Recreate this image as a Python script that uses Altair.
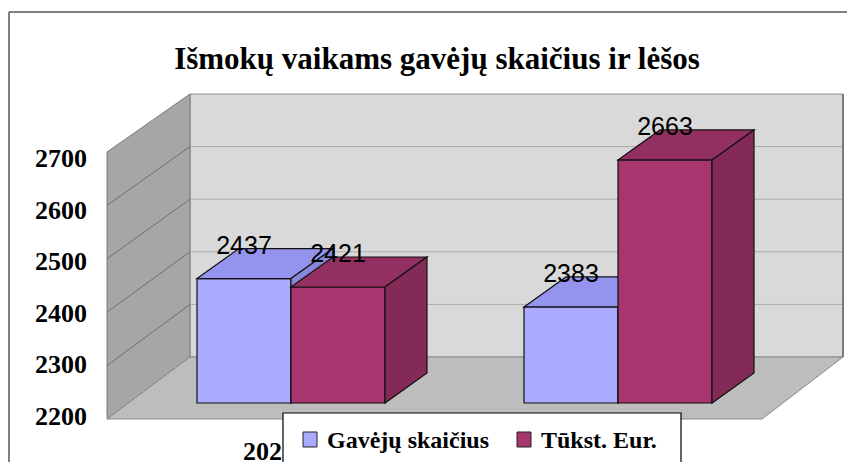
import altair as alt
import pandas as pd

# ---------------- data ----------------
TITLE = "Išmokų vaikams gavėjų skaičius ir lėšos"
categories = ["2023", "2024"]
series_names = ["Gavėjų skaičius", "Tūkst. Eur."]
gaveju_skaicius = [2437, 2383]
tukst_eur = [2421, 2663]
tick_values = [2200, 2300, 2400, 2500, 2600, 2700]

# ---------------- layout / style ----------------
W, H = 839, 454
M = 8  # page margin (screen -> plot coordinates)
SERIF = "'Liberation Serif', 'Times New Roman', Times, serif"
SANS = "'Liberation Sans', Arial, sans-serif"
FRONT = ["#aaaaff", "#a8366e"]
TOP = ["#9494ee", "#933061"]
SIDE = ["#8787d8", "#832b56"]
EDGE = "#111111"

BASE = 2200
PXU = 0.525            # pixels per value unit at the bar plane
GAP = 327.0            # pixels between category groups
BW = 94 / GAP          # bar width in category units
DX = 42 / GAP          # 3D depth, horizontal
DV = 30 / PXU          # 3D depth, vertical (value units)
G0 = 291 - M           # plot x of first group centre
B0 = 403 - M           # plot y of the base value

xs = alt.Scale(domain=[-G0 / GAP, (W - G0) / GAP], nice=False, zero=False)
ys = alt.Scale(domain=[BASE - (H - B0) / PXU, BASE + B0 / PXU], nice=False, zero=False)
pxX = alt.Scale(domain=[0, W], range=[0, W], nice=False, zero=False)
pxY = alt.Scale(domain=[0, H], range=[0, H], nice=False, zero=False)

# 3D frame geometry (screen px)
FX, BXL, BXR, FXR = 107, 190, 843, 762
FY0, BY0 = 419, 357
def yf(v):
    return FY0 - (v - BASE) * 0.534
def yb(v):
    return BY0 - (v - BASE) * 0.526
TOPV = tick_values[-1]

def P(v):
    return v - M

# ---------------- bar geometry ----------------
values = [gaveju_skaicius, tukst_eur]
front_rows, top_rows, side_rows, label_rows = [], [], [], []
for s, vals in enumerate(values):
    for g, v in enumerate(vals):
        x0 = g - BW if s == 0 else g
        x1 = x0 + BW
        bid = f"{s}-{g}"
        front_rows.append(dict(s=s, id=bid, x0=x0, x1=x1, v=v, b=BASE))
        top_rows += [
            dict(s=s, id=bid, x=x0, y=v, y2=v),
            dict(s=s, id=bid, x=x0 + DX, y=v + DV, y2=v),
            dict(s=s, id=bid, x=x1, y=v + DV, y2=v),
            dict(s=s, id=bid, x=x1 + DX, y=v + DV, y2=v + DV),
        ]
        side_rows += [
            dict(s=s, id=bid, x=x1, y=v, y2=BASE),
            dict(s=s, id=bid, x=x1 + DX, y=v + DV, y2=BASE + DV),
        ]
        label_rows.append(dict(s=s, x=(x0 + x1) / 2, v=v, t=str(v)))
df_front = pd.DataFrame(front_rows)
df_top = pd.DataFrame(top_rows)
df_side = pd.DataFrame(side_rows)
df_lab = pd.DataFrame(label_rows)

layers = []
one = pd.DataFrame({"a": [0]})

# outer frame
layers.append(alt.Chart(one).mark_rule(color="#808080", strokeWidth=2).encode(
    x=alt.value(1), x2=alt.value(W), y=alt.value(4)))
layers.append(alt.Chart(one).mark_rule(color="#808080", strokeWidth=2).encode(
    x=alt.value(1), y=alt.value(4), y2=alt.value(H)))

# back wall
layers.append(alt.Chart(one).mark_rect(fill="#d9d9d9", stroke="#8c8c8c", strokeWidth=1).encode(
    x=alt.value(P(BXL)), x2=alt.value(P(BXR)), y=alt.value(P(yb(TOPV))), y2=alt.value(P(BY0))))

# left wall
df_lw = pd.DataFrame([dict(x=P(FX), y=P(yf(TOPV)), y2=P(FY0)), dict(x=P(BXL), y=P(yb(TOPV)), y2=P(BY0))])
layers.append(alt.Chart(df_lw).mark_area(fill="#a6a6a6", stroke="#7a7a7a", strokeWidth=1).encode(
    x=alt.X("x:Q", scale=pxX, axis=None), y=alt.Y("y:Q", scale=pxY, axis=None, stack=None), y2="y2:Q"))

# floor
df_fl = pd.DataFrame([
    dict(x=P(FX), y=P(FY0), y2=P(FY0)),
    dict(x=P(BXL), y=P(BY0), y2=P(FY0)),
    dict(x=P(FXR), y=P(BY0), y2=P(FY0)),
    dict(x=P(BXR), y=P(BY0), y2=P(BY0)),
])
layers.append(alt.Chart(df_fl).mark_area(fill="#bdbdbd", stroke="#8a8a8a", strokeWidth=1).encode(
    x=alt.X("x:Q", scale=pxX, axis=None), y=alt.Y("y:Q", scale=pxY, axis=None, stack=None), y2="y2:Q"))

# gridlines
grid = pd.DataFrame([dict(xa=P(FX), ya=P(yf(v)), xb=P(BXL), yb=P(yb(v)), xc=P(BXR)) for v in tick_values[1:-1]])
layers.append(alt.Chart(grid).mark_rule(color="#6f6f6f", strokeWidth=1).encode(
    x=alt.X("xa:Q", scale=pxX, axis=None), y=alt.Y("ya:Q", scale=pxY, axis=None), x2="xb:Q", y2="yb:Q"))
layers.append(alt.Chart(grid).mark_rule(color="#ababab", strokeWidth=1).encode(
    x=alt.X("xb:Q", scale=pxX, axis=None), y=alt.Y("yb:Q", scale=pxY, axis=None), x2="xc:Q"))
# back wall right edge
layers.append(alt.Chart(one).mark_rule(color="#7a7a7a", strokeWidth=2).encode(
    x=alt.value(P(BXR)), y=alt.value(P(yb(TOPV))), y2=alt.value(P(BY0))))

# bars
for s in range(2):
    layers.append(alt.Chart(df_front[df_front.s == s]).mark_rect(fill=FRONT[s], stroke=EDGE, strokeWidth=1.2).encode(
        x=alt.X("x0:Q", scale=xs, axis=None), x2="x1:Q",
        y=alt.Y("v:Q", scale=ys, axis=None, stack=None), y2="b:Q"))
    layers.append(alt.Chart(df_top[df_top.s == s]).mark_area(fill=TOP[s], stroke=EDGE, strokeWidth=1.2).encode(
        x=alt.X("x:Q", scale=xs, axis=None),
        y=alt.Y("y:Q", scale=ys, axis=None, stack=None), y2="y2:Q", detail="id:N"))
    layers.append(alt.Chart(df_side[df_side.s == s]).mark_area(fill=SIDE[s], stroke=EDGE, strokeWidth=1.2).encode(
        x=alt.X("x:Q", scale=xs, axis=None),
        y=alt.Y("y:Q", scale=ys, axis=None, stack=None), y2="y2:Q", detail="id:N"))

# value labels
layers.append(alt.Chart(df_lab).mark_text(font=SANS, fontSize=25, baseline="alphabetic", align="center",
                                          dy=-25, color="#000000").encode(
    x=alt.X("x:Q", scale=xs, axis=None), y=alt.Y("v:Q", scale=ys, axis=None), text="t:N"))

# y tick labels (front plane)
df_ticks = pd.DataFrame({"v": tick_values, "t": [str(v) for v in tick_values]})
layers.append(alt.Chart(df_ticks).mark_text(font=SERIF, fontWeight="bold", fontSize=26, align="right",
                                             baseline="alphabetic", color="#000000").encode(
    x=alt.value(P(87)),
    y=alt.Y("v:Q", scale=alt.Scale(domain=[2200, 2700], range=[P(424.8), P(167.3)], nice=False, zero=False), axis=None),
    text="t:N"))

# category labels (the legend box covers most of them, as in the original)
df_cat = pd.DataFrame({"g": list(range(len(categories))), "c": categories})
layers.append(alt.Chart(df_cat).transform_calculate(xc="datum.g - 0.067").mark_text(
    font=SERIF, fontWeight="bold", fontSize=26, align="center", baseline="alphabetic", color="#000000").encode(
    x=alt.X("xc:Q", scale=xs, axis=None), y=alt.value(P(460)), text="c:N"))

# title
layers.append(alt.Chart(pd.DataFrame({"t": [TITLE]})).mark_text(
    font=SERIF, fontWeight="bold", fontSize=31, align="center", baseline="alphabetic", color="#000000").encode(
    x=alt.value(P(437)), y=alt.value(P(69.3)), text="t:N"))

# legend
layers.append(alt.Chart(one).mark_rect(fill="#ffffff", stroke="#000000", strokeWidth=1.2).encode(
    x=alt.value(P(283)), x2=alt.value(P(681)), y=alt.value(P(413)), y2=alt.value(P(466))))
df_leg = pd.DataFrame({
    "name": series_names,
    "sx": [P(303), P(517)],
    "tx": [P(327), P(541)],
})
layers.append(alt.Chart(df_leg).mark_rect(stroke="#222222", strokeWidth=1).encode(
    x=alt.X("sx:Q", scale=pxX, axis=None), x2=alt.X2("sx2:Q"),
    y=alt.value(P(432)), y2=alt.value(P(447)),
    fill=alt.Fill("name:N", scale=alt.Scale(domain=series_names, range=FRONT), legend=None),
).transform_calculate(sx2="datum.sx + 14"))
layers.append(alt.Chart(df_leg).mark_text(font=SERIF, fontWeight="bold", fontSize=24, align="left",
                                          baseline="alphabetic", color="#000000").encode(
    x=alt.X("tx:Q", scale=pxX, axis=None), y=alt.value(P(447.5)), text="name:N"))

chart = alt.layer(*layers).resolve_scale(x="independent", y="independent", fill="independent").properties(
    width=W, height=H, autosize="none", padding=0
).configure_view(stroke=None)

chart.save("out.html", embed_options={"renderer": "svg", "actions": False})
